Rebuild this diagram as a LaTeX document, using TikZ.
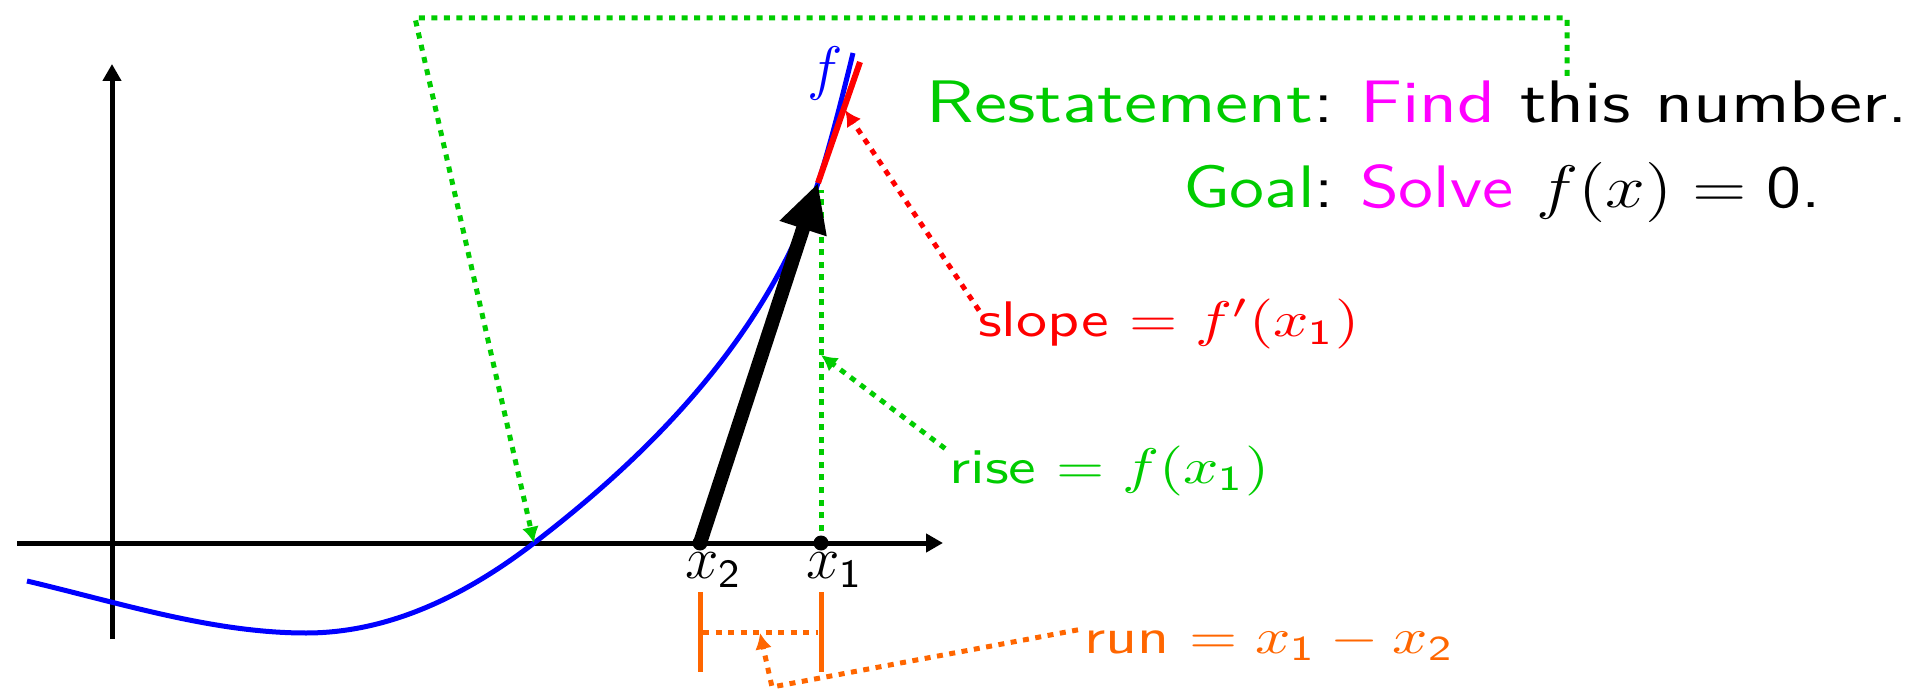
\documentclass[tikz,border=0pt]{standalone}
\usepackage{fontspec}
\usepackage{graphicx}
\usetikzlibrary{arrows.meta,calc}
\definecolor{cgreen}{RGB}{0,204,0}
\definecolor{cmag}{RGB}{255,0,255}
\definecolor{corange}{RGB}{255,102,0}
\definecolor{cred}{RGB}{255,0,0}
\definecolor{cblue}{RGB}{0,0,255}
\newcommand{\bigtxt}{\fontsize{12}{14}\selectfont\sffamily}
\newcommand{\lbltxt}{\fontsize{10}{12}\selectfont\sffamily}
\newcommand{\symtxt}{\fontsize{12}{14}\selectfont\sffamily}
\newcommand{\wide}[1]{\scalebox{1.24}[1]{#1}}
\newcommand{\wider}[1]{\scalebox{1.26}[1]{#1}}
\newcommand{\widegoal}[1]{\scalebox{1.19}[1]{#1}}
\tikzset{
  axisline/.style={line width=1pt,-{Triangle[length=3.4pt,width=3.6pt]}},
  dotline/.style={line width=1pt, dash pattern=on 1.2pt off 1.3pt},
  gdot/.style={dotline, cgreen},
  rdot/.style={dotline, cred},
  odot/.style={dotline, corange},
  dottip/.style={-{Latex[length=3.2pt,width=3.4pt]}},
  lbl/.style={inner sep=0pt, font=\lbltxt},
  symlbl/.style={inner sep=0pt, font=\symtxt},
  toptxt/.style={inner sep=0pt, font=\bigtxt},
  ptdot/.style={circle, fill=black, inner sep=0pt, minimum size=3pt},
}
\begin{document}
\begin{tikzpicture}[x=0.2pt,y=-0.2pt]
\useasboundingbox (0,0) rectangle (1915,691);
% key coordinates
\coordinate (root) at (534,543);
\coordinate (tp) at (818,183);
\coordinate (redend) at (860,62);
\coordinate (redpt) at (845,110);
\coordinate (risept) at (821,355);
\coordinate (topcorner) at (415,18);
\coordinate (rsstart) at (1567,76);
\coordinate (xa0) at (17,543);
\coordinate (xa1) at (943,543);
\coordinate (ya0) at (112,639);
\coordinate (ya1) at (112,64);
\coordinate (t2a) at (700,592);
\coordinate (t2b) at (700,672);
\coordinate (t1a) at (821,592);
\coordinate (t1b) at (821,672);
\coordinate (runmid2) at (703,632);
\coordinate (runmid1) at (818,632);
\coordinate (runpt) at (760,633);
\coordinate (runbend) at (772,687);
% axes
\draw[axisline] (xa0) -- (xa1);
\draw[axisline] (ya0) -- (ya1);
% function
\draw[cblue, line width=1pt] (27,581) .. controls (120,603) and (213,633) .. (306,633)
  .. controls (382,633) and (458,601.5) .. (root)
  .. controls (629,470) and (763,350) .. (tp)
  .. controls (830,146.5) and (845,86) .. (853,53);
\node[cblue, symlbl] (flbl) at (825,74) {$f$};
% tangent
\draw[cred, line width=1.2pt] (tp) -- (redend);
% rise line
\draw[gdot] (821,543) -- (821,190);
% points
\node[ptdot] (x2) at (700,543) {};
\node[ptdot] (x1) at (821,543) {};
\node[symlbl, anchor=base west] (x2lbl) at (684,578) {$x_{\mathsf{2}}$};
\node[symlbl, anchor=base west] (x1lbl) at (805,578) {$x_{\mathsf{1}}$};
% Newton step
\draw[line width=2.8pt, -{Triangle[length=9.6pt,width=9.2pt]}] (x2.center) -- (tp);
% run markers
\draw[corange, line width=1pt] (t2a) -- (t2b);
\draw[corange, line width=1pt] (t1a) -- (t1b);
\draw[odot] (runmid2) -- (runmid1);
% labels
\node[lbl, cred, anchor=base west] (slope) at (977,337) {\wide{slope $= f'(x_{\mathsf{1}})$}};
\node[lbl, cgreen, anchor=base west] (rise) at (948,483) {\wide{rise $= f(x_{\mathsf{1}})$}};
\node[lbl, corange, anchor=base west] (run) at (1083,653) {\wide{run $= x_{\mathsf{1}} - x_{\mathsf{2}}$}};
\draw[rdot, dottip] ($(slope.north west)+(2,12)$) -- (redpt);
\draw[gdot, dottip] ($(rise.north west)+(-3,4)$) -- (risept);
\draw[odot, dottip] ($(run.north west)+(-5,7)$) -- (runbend) -- (runpt);
% top text
\node[toptxt, anchor=base east] (restate) at (1335,123) {\wider{\textcolor{cgreen}{Restatement}:}};
\node[toptxt, anchor=base west] (find) at (1359,123) {\wider{\textcolor{cmag}{Find} this number.}};
\node[toptxt, anchor=base east] (goal) at (1335,208) {\widegoal{\textcolor{cgreen}{Goal}:}};
\node[toptxt, anchor=base west] (solve) at (1359,208) {\widegoal{\textcolor{cmag}{Solve} $f(x) = \mathsf{0}$.}};
\draw[gdot, dottip] (rsstart) |- (topcorner) -- (root);
\end{tikzpicture}
\end{document}
